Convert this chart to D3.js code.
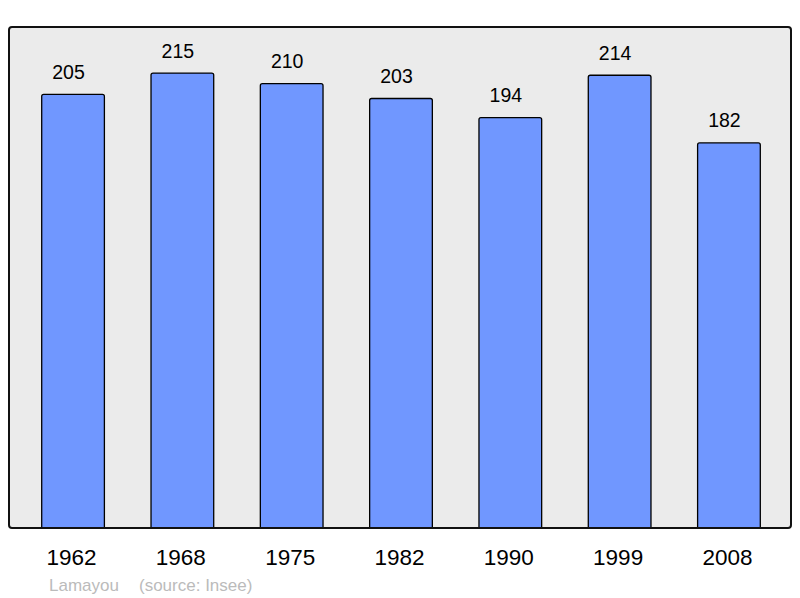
<!DOCTYPE html>
<html>
<head>
<meta charset="utf-8">
<script src="https://cdn.jsdelivr.net/npm/d3@7"></script>
<style>
  body { margin: 0; background: #fff; }
  svg { display: block; font-family: "Liberation Sans", Arial, sans-serif; }
</style>
</head>
<body>
<div id="chart"></div>
<script>
// population par recensement
const years = ["1962", "1968", "1975", "1982", "1990", "1999", "2008"];
const population = [205, 215, 210, 203, 194, 214, 182];
const credit = "Lamayou";
const source = "(source: Insee)";

const width = 800, height = 598;
const frame = { left: 9, right: 791, top: 27, bottom: 528 };

const svg = d3.select("#chart").append("svg")
  .attr("width", width)
  .attr("height", height);

svg.append("defs").append("clipPath")
  .attr("id", "plot-clip")
  .append("rect")
  .attr("x", frame.left)
  .attr("y", frame.top)
  .attr("width", frame.right - frame.left)
  .attr("height", frame.bottom - frame.top);

// fond du graphique
svg.append("rect")
  .attr("x", frame.left)
  .attr("y", frame.top)
  .attr("width", frame.right - frame.left)
  .attr("height", frame.bottom - frame.top)
  .attr("rx", 3)
  .attr("fill", "#ebebeb");

const x = d3.scaleBand()
  .domain(years)
  .range([10, 792])
  .paddingInner(0.4265)
  .paddingOuter(0.29);

const y = d3.scaleLinear()
  .domain([0, 236.8])
  .range([frame.bottom, frame.top]);

const data = years.map((yr, i) => ({ year: yr, value: population[i] }));

// barres (le bas est coupé par le cadre)
svg.append("g")
  .attr("clip-path", "url(#plot-clip)")
  .selectAll("rect")
  .data(data)
  .join("rect")
  .attr("x", d => x(d.year))
  .attr("y", d => y(d.value))
  .attr("width", x.bandwidth())
  .attr("height", d => y(0) - y(d.value) + 6)
  .attr("rx", 2)
  .attr("fill", "#7097ff")
  .attr("stroke", "#000")
  .attr("stroke-width", 1.3);

// valeurs (légèrement décalées à gauche comme sur l'original)
svg.append("g")
  .selectAll("text")
  .data(data)
  .join("text")
  .attr("x", d => x(d.year) + x.bandwidth() / 2 - 4.5)
  .attr("y", d => y(d.value) - 15.5)
  .attr("text-anchor", "middle")
  .attr("font-size", 19.5)
  .attr("fill", "#000")
  .text(d => d.value);

// cadre
svg.append("rect")
  .attr("x", frame.left)
  .attr("y", frame.top)
  .attr("width", frame.right - frame.left)
  .attr("height", frame.bottom - frame.top)
  .attr("rx", 3)
  .attr("fill", "none")
  .attr("stroke", "#111")
  .attr("stroke-width", 2);

// années
svg.append("g")
  .selectAll("text")
  .data(years)
  .join("text")
  .attr("x", d => x(d) + x.bandwidth() / 2 - 1.5)
  .attr("y", 565)
  .attr("text-anchor", "middle")
  .attr("font-size", 22.5)
  .attr("fill", "#000")
  .text(d => d);

// crédits
svg.append("text")
  .attr("x", 49)
  .attr("y", 590.5)
  .attr("font-size", 17)
  .attr("fill", "#bbb")
  .text(credit);

svg.append("text")
  .attr("x", 139)
  .attr("y", 590.5)
  .attr("font-size", 17)
  .attr("fill", "#bbb")
  .text(source);
</script>
</body>
</html>
